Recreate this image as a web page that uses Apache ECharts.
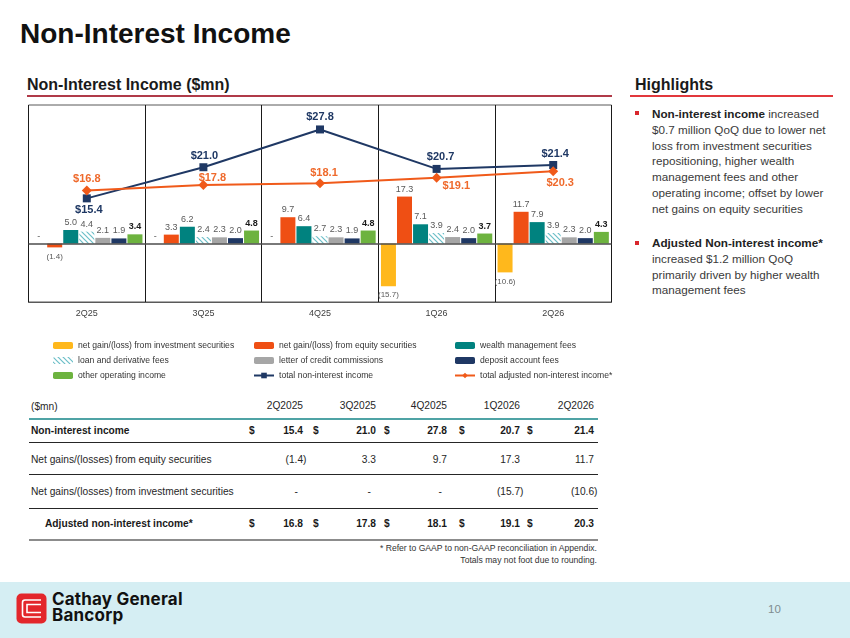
<!DOCTYPE html>
<html>
<head>
<meta charset="utf-8">
<script src="https://cdn.jsdelivr.net/npm/echarts@6/dist/echarts.min.js"></script>
<style>
body{margin:0;background:#fff;font-family:"Liberation Sans",Arial,sans-serif;}
#page{position:relative;width:850px;height:638px;overflow:hidden;background:#fff;}
#chart{position:absolute;left:0;top:0;width:850px;height:400px;z-index:2;}
.t{position:absolute;white-space:nowrap;line-height:14px;height:14px;}
.hl{position:absolute;left:652px;font-size:11.7px;line-height:15.8px;color:#3a3a3a;white-space:nowrap;}
.hl b{color:#222;}
.bullet{position:absolute;left:635px;width:4px;height:4px;background:#d9262c;}
</style>
</head>
<body>
<div id="page">
  <div class="t" style="left:20px;top:18px;height:32px;line-height:32px;font-size:28px;font-weight:bold;color:#111;">Non-Interest Income</div>
  <div class="t" style="left:27px;top:75px;height:20px;line-height:20px;font-size:16px;font-weight:bold;color:#1a1a1a;">Non-Interest Income ($mn)</div>
  <div style="position:absolute;left:27px;top:95px;width:585px;height:1.5px;background:#b03a48;"></div>
  <div class="t" style="left:635px;top:75px;height:20px;line-height:20px;font-size:16px;font-weight:bold;color:#1a1a1a;">Highlights</div>
  <div style="position:absolute;left:630px;top:95px;width:203px;height:1.5px;background:#e2383c;"></div>

  <div class="bullet" style="top:111px;"></div>
  <div class="hl" style="top:106px;">
    <b>Non-interest income</b> increased<br>
    $0.7 million QoQ due to lower net<br>
    loss from investment securities<br>
    repositioning, higher wealth<br>
    management fees and other<br>
    operating income; offset by lower<br>
    net gains on equity securities
  </div>
  <div class="bullet" style="top:241px;"></div>
  <div class="hl" style="top:235px;">
    <b>Adjusted Non-interest income*</b><br>
    increased $1.2 million QoQ<br>
    primarily driven by higher wealth<br>
    management fees
  </div>

  <div id="chart"></div>

  <div style="position:absolute;left:0;top:582px;width:850px;height:56px;background:#d5eef3;"></div>
  <svg style="position:absolute;left:16px;top:593px;" width="31" height="31" viewBox="0 0 31 31">
    <rect x="0.5" y="0.5" width="30" height="30" rx="5" fill="#e3262b"/>
    <path d="M25 7 H9 Q6.5 7 6.5 9.5 V21.5 Q6.5 24 9 24 H25" fill="none" stroke="#fff" stroke-width="1.6"/>
    <path d="M25 11.5 H11 V19.5 H25" fill="none" stroke="#fff" stroke-width="1.6"/>
  </svg>
  <div class="t" style="left:52px;top:590px;height:18px;line-height:18px;font-family:Inter,'Liberation Sans',sans-serif;font-size:17px;letter-spacing:0.2px;font-weight:bold;color:#111;">Cathay General</div>
  <div class="t" style="left:52px;top:606px;height:18px;line-height:18px;font-family:Inter,'Liberation Sans',sans-serif;font-size:17px;letter-spacing:0.2px;font-weight:bold;color:#111;">Bancorp</div>
  <div class="t" style="left:768px;top:602px;font-size:11.5px;color:#7f8c8f;">10</div>
</div>
<script>
// chart data ($mn)
var quarters = ['2Q25', '3Q25', '4Q25', '1Q26', '2Q26'];
var investGain = [0, 0, 0, -15.7, -10.6];
var equityGain = [-1.4, 3.3, 9.7, 17.3, 11.7];
var wealthFees = [5.0, 6.2, 6.4, 7.1, 7.9];
var loanFees = [4.4, 2.4, 2.7, 3.9, 3.9];
var creditComm = [2.1, 2.3, 2.3, 2.4, 2.3];
var depositFees = [1.9, 2.0, 1.9, 2.0, 2.0];
var otherIncome = [3.4, 4.8, 4.8, 3.7, 4.3];
var totalIncome = [15.4, 21.0, 27.8, 20.7, 21.4];
var adjustedIncome = [16.8, 17.8, 18.1, 19.1, 20.3];

// table data
var tableQuarters = ['2Q2025', '3Q2025', '4Q2025', '1Q2026', '2Q2026'];
var tableRows = ['Non-interest income', 'Net gains/(losses) from equity securities',
                 'Net gains/(losses) from investment securities', 'Adjusted non-interest income*'];

//斜线填充
var hatch = document.createElement('canvas');
hatch.width = 5; hatch.height = 5;
var hc = hatch.getContext('2d');
hc.fillStyle = '#ffffff'; hc.fillRect(0, 0, 5, 5);
hc.strokeStyle = '#6cbfc8'; hc.lineWidth = 1.2;
hc.beginPath();
hc.moveTo(0, 0); hc.lineTo(5, 5);
hc.moveTo(-1, 4); hc.lineTo(1, 6);
hc.moveTo(4, -1); hc.lineTo(6, 1);
hc.stroke();

function fmtNum(v){
    if(v === 0) return '-';
    if(v < 0) return '(' + (-v).toFixed(1) + ')';
    return v.toFixed(1);
}

function barSeries(name, data, color, bold){
    return {
        name: name,
        type: 'bar',
        yAxisIndex: 0,
        barWidth: 15,
        barGap: '7%',
        itemStyle: {color: color},
        label: {
            show: true, position: 'top', distance: 3, fontSize: 9,
            color: bold ? '#1a1a1a' : '#595959',
            fontWeight: bold ? 'bold' : 'normal',
            formatter: function(p){ return fmtNum(p.value); }
        },
        data: data.map(function(v){
            return v < 0 ? {value: v, label: {position: 'bottom', fontSize: 8, distance: 5}} : v;
        })
    };
}

// label placement for the two lines
var totalPos = ['bottom', 'top', 'top', 'top', 'top'];
var totalOff = [[2, 0], [1, 0], [0, -1], [4, 0], [2, 0]];
var adjPos = ['top', 'top', 'top', 'right', 'bottom'];
var adjOff = [[0, 0], [9, 4], [4, 1], [0, 8], [7, 0]];

function lineData(values, pos, off){
    return values.map(function(v, i){
        return {value: v, label: {position: pos[i], offset: off[i]}};
    });
}

var bars = [
    barSeries('net gain/(loss) from investment securities', investGain, '#ffb81c'),
    barSeries('net gain/(loss) from equity securities', equityGain, '#ef4f14'),
    barSeries('wealth management fees', wealthFees, '#00827f'),
    barSeries('loan and derivative fees', loanFees, {image: hatch, repeat: 'repeat'}),
    barSeries('letter of credit commissions', creditComm, '#a6a6a6'),
    barSeries('deposit account fees', depositFees, '#1f3864'),
    barSeries('other operating income', otherIncome, '#6db33f', true)
];
bars[0].markLine = {
    silent: true, symbol: 'none', animation: false,
    label: {show: false},
    lineStyle: {color: '#4d4d4d', width: 1.5, type: 'solid'},
    data: [{yAxis: 0}]
};

var chart = echarts.init(document.getElementById('chart'));
var legendText = {fontSize: 8.6, color: '#333'};
var option = {
    animation: false,
    grid: {left: 28.5, top: 105, width: 583, height: 197, show: true, borderColor: '#595959', borderWidth: 1},
    legend: [
        {orient: 'vertical', left: 48, top: 336, itemWidth: 20, itemHeight: 7, itemGap: 6, textStyle: legendText,
         data: ['net gain/(loss) from investment securities', 'loan and derivative fees', 'other operating income']},
        {orient: 'vertical', left: 248, top: 336, itemWidth: 20, itemHeight: 7, itemGap: 6, textStyle: legendText,
         data: ['net gain/(loss) from equity securities', 'letter of credit commissions', 'total non-interest income']},
        {orient: 'vertical', left: 449, top: 336, itemWidth: 20, itemHeight: 7, itemGap: 6, textStyle: legendText,
         data: ['wealth management fees', 'deposit account fees', 'total adjusted non-interest income*']}
    ],
    xAxis: {
        type: 'category',
        data: quarters,
        axisTick: {show: false},
        axisLine: {show: true, onZero: false, lineStyle: {color: '#595959'}},
        axisLabel: {fontSize: 9, color: '#404040', margin: 7},
        splitLine: {show: true, lineStyle: {color: '#1a1a1a', width: 1}}
    },
    yAxis: [
        {type: 'value', min: -21.5, max: 51, show: false, splitLine: {show: false}},
        {type: 'value', min: -3.25, max: 32.2, show: false, splitLine: {show: false}}
    ],
    series: bars.concat([
        {
            name: 'total non-interest income',
            type: 'line',
            yAxisIndex: 1,
            symbol: 'rect',
            symbolSize: 8,
            z: 5,
            itemStyle: {color: '#1f3864'},
            lineStyle: {color: '#1f3864', width: 2},
            label: {show: true, distance: 2, fontSize: 11, fontWeight: 'bold', color: '#1f3864',
                    formatter: function(p){ return '$' + p.value.toFixed(1); }},
            data: lineData(totalIncome, totalPos, totalOff)
        },
        {
            name: 'total adjusted non-interest income*',
            type: 'line',
            yAxisIndex: 1,
            symbol: 'diamond',
            symbolSize: 10,
            z: 6,
            itemStyle: {color: '#f05a1a'},
            lineStyle: {color: '#f05a1a', width: 2},
            label: {show: true, distance: 1, fontSize: 11, fontWeight: 'bold', color: '#ef6a2c',
                    formatter: function(p){ return '$' + p.value.toFixed(1); }},
            data: lineData(adjustedIncome, adjPos, adjOff)
        }
    ])
};
chart.setOption(option);

// 表格
var colRight = [303, 376, 447, 520, 594];
var dollarX = [249, 313, 384, 459, 527];
var rowY = [431, 460, 492, 524];
var rowValues = [totalIncome, equityGain, investGain, adjustedIncome];
var rowDollar = [true, false, false, true];
var rowBold = [true, false, false, true];
var rowIndent = [31, 31, 31, 45];

function put(text, x, y, css, alignRight){
    var d = document.createElement('div');
    d.className = 't';
    d.textContent = text;
    d.style.top = (y - 7) + 'px';
    if(alignRight){
        d.style.right = (850 - x) + 'px';
    }else{
        d.style.left = x + 'px';
    }
    d.style.cssText += css;
    document.getElementById('page').appendChild(d);
}
function hline(y, h, color){
    var d = document.createElement('div');
    d.style.cssText = 'position:absolute;left:29px;width:569px;top:' + y + 'px;height:' + h + 'px;background:' + color + ';';
    document.getElementById('page').appendChild(d);
}

var base = 'font-size:10.2px;color:#262626;';
put('($mn)', 31, 407, base);
for(let i=0; i<tableQuarters.length; i++){
    put(tableQuarters[i], colRight[i], 406, base, true);
}
for(let r=0; r<tableRows.length; r++){
    let css = base + (rowBold[r] ? 'font-weight:bold;color:#1a1a1a;' : '');
    put(tableRows[r], rowIndent[r], rowY[r], css);
    for(let i=0; i<quarters.length; i++){
        let v = rowValues[r][i];
        if(rowDollar[r]) put('$', dollarX[i], rowY[r], css);
        let x = colRight[i];
        if(v < 0) x += 3.5;
        if(v === 0) x -= 5;
        put(fmtNum(v), x, rowY[r], css, true);
    }
}
hline(417.5, 2, '#4fa3a5');
hline(442, 1, '#262626');
hline(474, 1, '#262626');
hline(507.5, 1, '#262626');
hline(538.5, 2.5, '#8c8c8c');
put('* Refer to GAAP to non-GAAP reconciliation in Appendix.', 597, 548, 'font-size:8.6px;color:#333;', true);
put('Totals may not foot due to rounding.', 597, 560, 'font-size:8.6px;color:#333;', true);
</script>
</body>
</html>
